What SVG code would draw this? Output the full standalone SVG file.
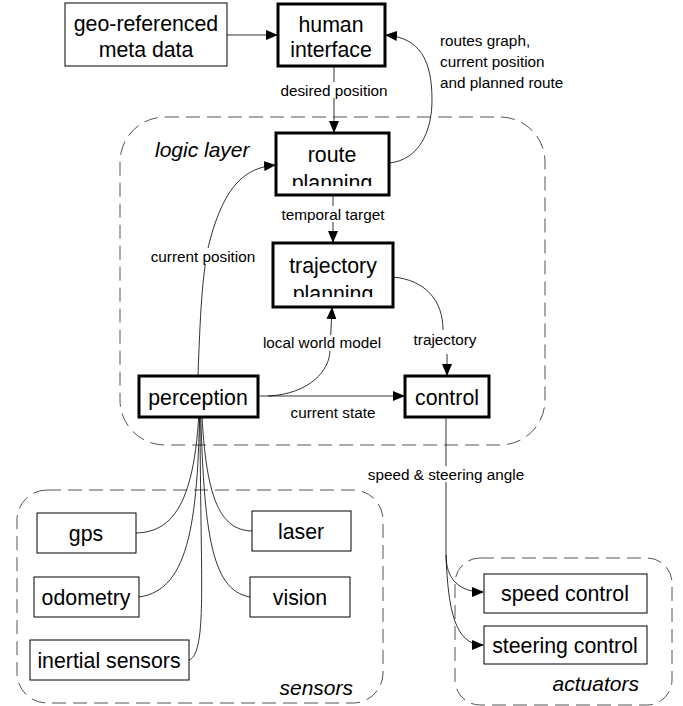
<svg xmlns="http://www.w3.org/2000/svg" width="683" height="706" viewBox="0 0 683 706">
<style>
.n{fill:#fff;stroke:#000;stroke-width:1}
.t{fill:#fff;stroke:#000;stroke-width:3}
.g{fill:none;stroke:#555;stroke-width:1;stroke-dasharray:14 7}
text{font-family:"Liberation Sans",Arial,sans-serif;fill:#000}
.big{font-size:21.3px;text-anchor:middle}
.lab{font-size:15.3px}
.it{font-size:21px;font-style:italic}
.c{fill:none;stroke:#000;stroke-width:0.8}
</style>
<defs>
<marker id="ar" markerWidth="12" markerHeight="10" refX="11" refY="5" orient="auto" markerUnits="userSpaceOnUse"><path d="M0,0 L12,5 L0,10 z" fill="#000"/></marker>
<clipPath id="cr"><rect x="276" y="133" width="113" height="53"/></clipPath>
<clipPath id="ct"><rect x="273" y="243" width="120" height="54"/></clipPath>
</defs>
<g id="groups">
<rect class="g" x="120" y="117" width="425" height="328" rx="45"/>
<text class="it" x="155" y="157">logic layer</text>
<rect class="g" x="17" y="490" width="366" height="213" rx="30"/>
<text class="it" x="353" y="695" text-anchor="end">sensors</text>
<rect class="g" x="455" y="558" width="217" height="147" rx="25"/>
<text class="it" x="639" y="691" text-anchor="end">actuators</text>
</g>
<g id="connectors">
<path class="c" d="M227,35 L277,35" marker-end="url(#ar)"/>
<path class="c" d="M334,66 L334,132" marker-end="url(#ar)"/>
<path class="c" d="M389,163 C420,160 432,130 432,100 C432,60 420,38 386,35" marker-end="url(#ar)"/>
<path class="c" d="M333,195 L333,242" marker-end="url(#ar)"/>
<path class="c" d="M198,376 C200,320 202,270 210,240 C225,185 245,168 275,165" marker-end="url(#ar)"/>
<path class="c" d="M393,277 C425,280 443,300 443,330" />
<path class="c" d="M447,354 L447,375" marker-end="url(#ar)"/>
<path class="c" d="M268,396 C310,394 330,370 330,350 L332,308" marker-end="url(#ar)"/>
<path class="c" d="M258,396 L404,396" marker-end="url(#ar)"/>
<path class="c" d="M446,417 L446,555 C446,580 460,592 483,592" marker-end="url(#ar)"/>
<path class="c" d="M446,555 C448,610 455,645 483,645" marker-end="url(#ar)"/>
<path class="c" d="M136,533 C175,532 198,500 200,384" marker-end="url(#ar)"/>
<path class="c" d="M139,597 C190,590 199,520 200,384"/>
<path class="c" d="M189,660 C204,655 202,600 201,520 C200,450 200,420 200,384"/>
<path class="c" d="M252,531 C220,530 203,500 201,384"/>
<path class="c" d="M250,597 C210,590 203,530 200,384"/>
</g>
<g id="geo"><rect class="n" x="65" y="3" width="162" height="63"/><text class="big" x="146" y="31">geo-referenced</text><text class="big" x="146" y="57">meta data</text></g>
<g id="human"><rect class="t" x="278" y="4" width="107" height="62"/><text class="big" x="331" y="32">human</text><text class="big" x="331" y="57">interface</text></g>
<g id="route"><rect class="t" x="276" y="133" width="113" height="62"/><g clip-path="url(#cr)"><text class="big" x="332" y="162">route</text><text class="big" x="332" y="190">planning</text></g></g>
<g id="trajectory"><rect class="t" x="273" y="243" width="120" height="64"/><g clip-path="url(#ct)"><text class="big" x="333" y="273">trajectory</text><text class="big" x="333" y="301">planning</text></g></g>
<g id="perception"><rect class="t" x="139" y="376" width="119" height="41"/><text class="big" x="198" y="405">perception</text></g>
<g id="control"><rect class="t" x="405" y="376" width="84" height="41"/><text class="big" x="447" y="405">control</text></g>
<g id="gps"><rect class="n" x="37" y="513" width="99" height="40"/><text class="big" x="86" y="541">gps</text></g>
<g id="odometry"><rect class="n" x="34" y="577" width="105" height="40"/><text class="big" x="86" y="605">odometry</text></g>
<g id="inertial"><rect class="n" x="30" y="640" width="159" height="40"/><text class="big" x="109" y="668">inertial sensors</text></g>
<g id="laser"><rect class="n" x="252" y="511" width="99" height="40"/><text class="big" x="301" y="539">laser</text></g>
<g id="vision"><rect class="n" x="250" y="577" width="100" height="40"/><text class="big" x="300" y="605">vision</text></g>
<g id="speed"><rect class="n" x="484" y="574" width="163" height="39"/><text class="big" x="565" y="601">speed control</text></g>
<g id="steering"><rect class="n" x="484" y="626" width="163" height="38"/><text class="big" x="565" y="653">steering control</text></g>
<g id="labels">
<rect x="275" y="82" width="120" height="16" fill="#fff"/>
<text class="lab" x="334" y="96" text-anchor="middle">desired position</text>
<text class="lab" x="440" y="46">routes graph,</text>
<text class="lab" x="440" y="67">current position</text>
<text class="lab" x="440" y="88">and planned route</text>
<rect x="280" y="206" width="106" height="16" fill="#fff"/>
<text class="lab" x="333" y="220" text-anchor="middle">temporal target</text>
<rect x="145" y="248" width="120" height="16" fill="#fff"/>
<text class="lab" x="203" y="262" text-anchor="middle">current position</text>
<rect x="258" y="335" width="128" height="16" fill="#fff"/>
<text class="lab" x="322" y="348" text-anchor="middle">local world model</text>
<rect x="410" y="332" width="72" height="16" fill="#fff"/>
<text class="lab" x="445" y="345" text-anchor="middle">trajectory</text>
<text class="lab" x="333" y="418" text-anchor="middle">current state</text>
<rect x="350" y="466" width="192" height="16" fill="#fff"/>
<text class="lab" x="446" y="480" text-anchor="middle">speed &amp; steering angle</text>
</g>
</svg>
